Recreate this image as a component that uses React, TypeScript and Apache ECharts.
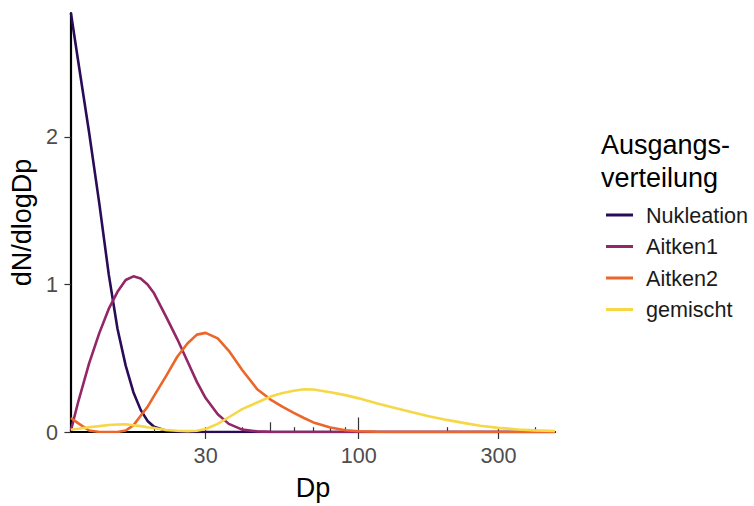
import React, { useEffect, useRef } from "react";
import * as echarts from "echarts";

const dp = [10.4, 11, 12, 13, 14, 15, 16, 17, 18, 19, 20, 22, 24, 26, 28, 30, 33, 36, 40, 45, 50, 55, 60, 65, 70, 80, 90, 100, 115, 130, 150, 175, 200, 230, 260, 300, 350, 400, 468];
const nukleation = [2.84, 2.52, 2.03, 1.55, 1.07, 0.7, 0.45, 0.27, 0.15, 0.075, 0.035, 0.008, 0.002, 0, 0, 0, 0, 0, 0, 0, 0, 0, 0, 0, 0, 0, 0, 0, 0, 0, 0, 0, 0, 0, 0, 0, 0, 0, 0];
const aitken1 = [0.01, 0.2, 0.465, 0.67, 0.834, 0.95, 1.03, 1.055, 1.04, 1.0, 0.94, 0.78, 0.63, 0.48, 0.34, 0.23, 0.12, 0.055, 0.016, 0.004, 0.001, 0, 0, 0, 0, 0, 0, 0, 0, 0, 0, 0, 0, 0, 0, 0, 0, 0, 0];
const aitken2 = [0.095, 0.06, 0.01, 0, 0, 0, 0.01, 0.045, 0.11, 0.17, 0.245, 0.38, 0.51, 0.6, 0.66, 0.672, 0.635, 0.55, 0.42, 0.29, 0.22, 0.17, 0.13, 0.095, 0.065, 0.03, 0.012, 0.005, 0.002, 0, 0, 0, 0, 0, 0, 0, 0, 0, 0];
const gemischt = [0.015, 0.022, 0.032, 0.04, 0.047, 0.051, 0.052, 0.046, 0.04, 0.032, 0.027, 0.014, 0.008, 0.006, 0.008, 0.02, 0.055, 0.1, 0.155, 0.2, 0.24, 0.265, 0.28, 0.29, 0.288, 0.27, 0.25, 0.228, 0.195, 0.168, 0.137, 0.105, 0.082, 0.06, 0.042, 0.028, 0.017, 0.011, 0.007];

const seriesNames = ["Nukleation", "Aitken1", "Aitken2", "gemischt"];
const seriesValues = [nukleation, aitken1, aitken2, gemischt];
const colors = ["#2A0B57", "#932667", "#EB6628", "#F6D746"];

const xMajorTicks = [30, 100, 300];
const logTicksShort = [20, 30, 40, 60, 70, 80, 90, 200, 300, 400];
const logTicksMid = [50];
const logTicksLong = [100];
const yTicks = [0, 1, 2];

const X_MIN = 10.4;
const X_MAX = 468;
const Y_MAX = 2.84;

const FONT = "'Liberation Sans', Arial, sans-serif";

export default function App() {
  const ref = useRef<HTMLDivElement>(null);

  useEffect(() => {
    if (!ref.current) return;
    const chart = echarts.init(ref.current, null, { renderer: "svg" });

    const logTickAxis = (values: number[], len: number) => ({
      type: "log",
      logBase: 10,
      gridIndex: 0,
      position: "bottom",
      min: X_MIN,
      max: X_MAX,
      axisLine: { show: false },
      axisLabel: { show: false },
      splitLine: { show: false },
      axisTick: {
        show: true,
        inside: true,
        length: len,
        customValues: values,
        lineStyle: { color: "#333333", width: 1.2 },
      },
    });

    chart.setOption({
      animation: false,
      textStyle: { fontFamily: FONT },
      title: {
        text: "Ausgangs-\nverteilung",
        left: 596,
        top: 123,
        textStyle: {
          fontFamily: FONT,
          fontSize: 27,
          fontWeight: "normal",
          color: "#000000",
          lineHeight: 33,
        },
      },
      legend: {
        data: seriesNames,
        orient: "vertical",
        left: 601,
        top: 199,
        icon: "rect",
        itemWidth: 27,
        itemHeight: 3,
        itemGap: 9.5,
        textStyle: {
          fontFamily: FONT,
          fontSize: 21.6,
          color: "#1a1a1a",
          padding: [0, 0, 0, 8],
        },
      },
      grid: {
        left: 70,
        top: 13,
        right: 199,
        bottom: 68.3,
        containLabel: false,
      },
      xAxis: [
        {
          type: "log",
          logBase: 10,
          min: X_MIN,
          max: X_MAX,
          position: "bottom",
          name: "Dp",
          nameLocation: "middle",
          nameGap: 42,
          nameTextStyle: { fontFamily: FONT, fontSize: 27, color: "#000000" },
          axisLine: { show: true, onZero: false, lineStyle: { color: "#000000", width: 2.2 } },
          axisTick: {
            show: true,
            length: 7,
            customValues: xMajorTicks,
            lineStyle: { color: "#333333", width: 1.2 },
          },
          axisLabel: {
            customValues: xMajorTicks,
            margin: 12,
            fontFamily: FONT,
            fontSize: 21.6,
            color: "#4D4D4D",
          },
          splitLine: { show: false },
          minorTick: { show: false },
        },
        logTickAxis(logTicksShort, 4.8),
        logTickAxis(logTicksMid, 9.7),
        logTickAxis(logTicksLong, 14.5),
      ],
      yAxis: {
        type: "value",
        min: 0,
        max: Y_MAX,
        name: "dN/dlogDp",
        nameLocation: "middle",
        nameGap: 34,
        nameRotate: 90,
        nameTextStyle: { fontFamily: FONT, fontSize: 27, color: "#000000" },
        axisLine: { show: true, lineStyle: { color: "#000000", width: 2.2 } },
        axisTick: {
          show: true,
          length: 6.5,
          customValues: yTicks,
          lineStyle: { color: "#333333", width: 1.2 },
        },
        axisLabel: {
          customValues: yTicks,
          margin: 13,
          fontFamily: FONT,
          fontSize: 21.6,
          color: "#4D4D4D",
        },
        splitLine: { show: false },
      },
      series: seriesNames.map((name, i) => ({
        name,
        type: "line",
        xAxisIndex: 0,
        yAxisIndex: 0,
        showSymbol: false,
        symbol: "none",
        smooth: false,
        color: colors[i],
        lineStyle: { color: colors[i], width: 2.6 },
        data: dp.map((d, k) => [d, seriesValues[i][k]]),
      })),
    });

    return () => chart.dispose();
  }, []);

  return (
    <div
      ref={ref}
      style={{ position: "absolute", left: 0, top: 0, width: 754, height: 506, background: "#ffffff" }}
    />
  );
}
